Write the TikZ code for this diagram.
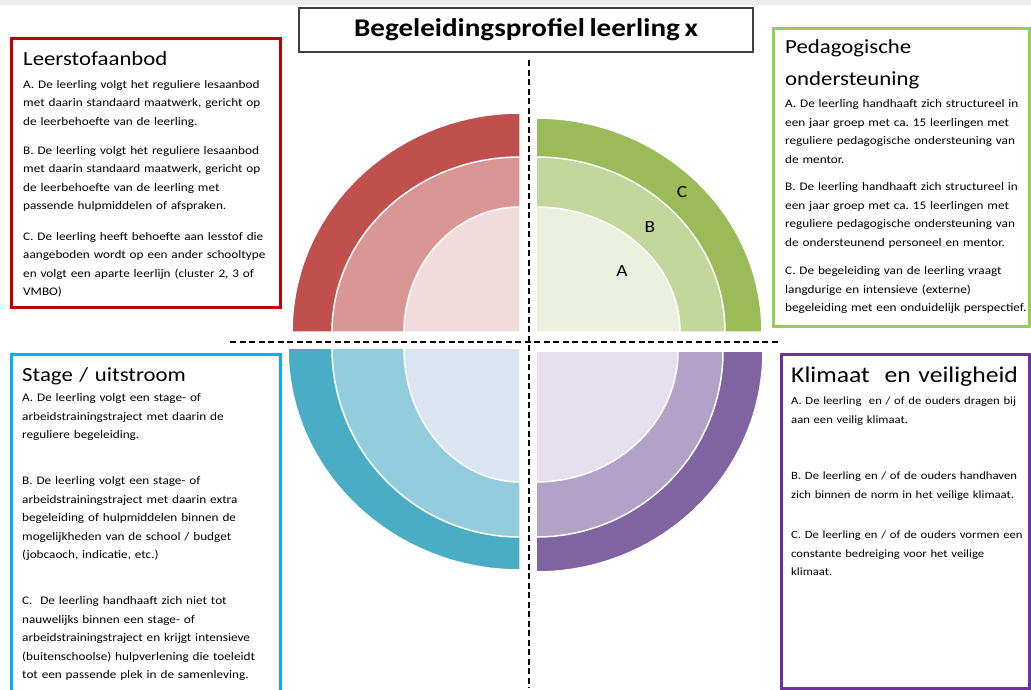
\documentclass[tikz,border=0pt]{standalone}
\usepackage{fontspec}
\setmainfont{Carlito}[FakeStretch=1.14, WordSpace=0.7]
\usepackage{xcolor}

\definecolor{roodlijn}{RGB}{192,0,0}
\definecolor{groenlijn}{RGB}{146,208,80}
\definecolor{blauwlijn}{RGB}{0,176,240}
\definecolor{paarslijn}{RGB}{112,48,160}
\definecolor{roodC}{HTML}{C0504D}
\definecolor{roodB}{HTML}{D99694}
\definecolor{roodA}{HTML}{F2DCDB}
\definecolor{groenC}{HTML}{9BBB59}
\definecolor{groenB}{HTML}{C3D69B}
\definecolor{groenA}{HTML}{EBF1DE}
\definecolor{blauwC}{HTML}{4BACC6}
\definecolor{blauwB}{HTML}{93CDDD}
\definecolor{blauwA}{HTML}{DBE5F1}
\definecolor{paarsC}{HTML}{8064A2}
\definecolor{paarsB}{HTML}{B3A2C7}
\definecolor{paarsA}{HTML}{E6E0EC}

\newcommand{\bodytekst}{\fontsize{11.6}{18.6}\selectfont}
\newcommand{\koptekst}{\fontsize{20}{32}\selectfont}
\frenchspacing

\begin{document}
\begin{tikzpicture}[x=1pt, y=-1pt,
    kader/.style={draw=#1, line width=3pt, inner sep=0pt, anchor=north west},
    tekst/.style={anchor=base west, inner sep=0pt, text width=300pt, align=left, font=\bodytekst},
    kop/.style={anchor=base west, inner sep=0pt, text width=250pt, align=left, font=\koptekst},
    ring/.style={fill=#1, draw=white, line width=1.5pt},
    stippel/.style={black, line width=2.2pt, dash pattern=on 6pt off 3.5pt},
    niveau/.style={inner sep=0pt, font=\fontsize{17}{17}\selectfont}]
  \useasboundingbox (0,0) rectangle (1031,689);
  \fill[black!7] (0,0) rectangle (1031,5);

  \node[draw=black!75, line width=1.2pt, minimum width=454pt, minimum height=44pt, inner sep=0pt,
    font=\bfseries\fontsize{25.5}{25.5}\selectfont] (titel) at (526,30) {Begeleidingsprofiel leerling x};

  \coordinate (rood) at (520,332);
  \coordinate (groen) at (536,332);
  \coordinate (blauw) at (520,348);
  \coordinate (paars) at (536,351);

  \filldraw[ring=roodC] (rood) -- ++(180:228 and 219) arc[start angle=180, end angle=270, x radius=228, y radius=219] -- cycle;
  \filldraw[ring=roodB] (rood) -- ++(180:188 and 175) arc[start angle=180, end angle=270, x radius=188, y radius=175] -- cycle;
  \filldraw[ring=roodA] (rood) -- ++(180:116 and 125) arc[start angle=180, end angle=270, x radius=116, y radius=125] -- cycle;

  \filldraw[ring=groenC] (groen) -- ++(270:226 and 214) arc[start angle=270, end angle=360, x radius=226, y radius=214] -- cycle;
  \filldraw[ring=groenB] (groen) -- ++(270:189 and 175) arc[start angle=270, end angle=360, x radius=189, y radius=175] -- cycle;
  \filldraw[ring=groenA] (groen) -- ++(270:144 and 125) arc[start angle=270, end angle=360, x radius=144, y radius=125] -- cycle;

  \filldraw[ring=blauwC] (blauw) -- ++(90:232 and 222) arc[start angle=90, end angle=180, x radius=232, y radius=222] -- cycle;
  \filldraw[ring=blauwB] (blauw) -- ++(90:188 and 189) arc[start angle=90, end angle=180, x radius=188, y radius=189] -- cycle;
  \filldraw[ring=blauwA] (blauw) -- ++(90:116 and 134) arc[start angle=90, end angle=180, x radius=116, y radius=134] -- cycle;

  \filldraw[ring=paarsC] (paars) -- ++(0:227 and 221) arc[start angle=0, end angle=90, x radius=227, y radius=221] -- cycle;
  \filldraw[ring=paarsB] (paars) -- ++(0:187 and 186) arc[start angle=0, end angle=90, x radius=187, y radius=186] -- cycle;
  \filldraw[ring=paarsA] (paars) -- ++(0:142 and 131) arc[start angle=0, end angle=90, x radius=142, y radius=131] -- cycle;

  \node[niveau] (niveauC) at (682,192) {C};
  \node[niveau] (niveauB) at (650,227) {B};
  \node[niveau] (niveauA) at (622,271) {A};

  \coordinate (hlinks) at (230,342);
  \coordinate (hrechts) at (778,342);
  \coordinate (vboven) at (529,60);
  \coordinate (vonder) at (529,688);
  \draw[stippel] (hlinks) -- (hrechts);
  \draw[stippel] (vboven) -- (vonder);

  \node[kader=roodlijn, minimum width=269pt, minimum height=269pt] (leerstof) at (10,37) {};
  \node[kop] (leerstof-kop) at (23,65) {Leerstofaanbod};
  \node[tekst] (leerstof-a) at (23,88) {A. De leerling volgt het reguliere lesaanbod\\ met daarin standaard maatwerk, gericht op\\ de leerbehoefte van de leerling.};
  \node[tekst] (leerstof-b) at (23,154) {B. De leerling volgt het reguliere lesaanbod\\ met daarin standaard maatwerk, gericht op\\ de leerbehoefte van de leerling met\\ passende hulpmiddelen of afspraken.};
  \node[tekst] (leerstof-c) at (23,240) {C. De leerling heeft behoefte aan lesstof die\\ aangeboden wordt op een ander schooltype\\ en volgt een aparte leerlijn (cluster 2, 3 of\\ VMBO)};

  \node[kader=groenlijn, minimum width=256pt, minimum height=298pt] (pedagogisch) at (772,27) {};
  \node[kop] (pedagogisch-kop) at (785,53) {Pedagogische\\ ondersteuning};
  \node[tekst] (pedagogisch-a) at (785,107.5) {A. De leerling handhaaft zich structureel in\\ een jaar groep met ca. 15 leerlingen met\\ reguliere pedagogische ondersteuning van\\ de mentor.};
  \node[tekst] (pedagogisch-b) at (785,190.5) {B. De leerling handhaaft zich structureel in\\ een jaar groep met ca. 15 leerlingen met\\ reguliere pedagogische ondersteuning van\\ de ondersteunend personeel en mentor.};
  \node[tekst] (pedagogisch-c) at (785,274.5) {C. De begeleiding van de leerling vraagt\\ langdurige en intensieve (externe)\\ begeleiding met een onduidelijk perspectief.};

  \node[kader=blauwlijn, minimum width=269pt, minimum height=340pt] (stage) at (10,353) {};
  \node[kop] (stage-kop) at (22,381) {Stage / uitstroom};
  \node[tekst] (stage-a) at (22,401.5) {A. De leerling volgt een stage- of\\ arbeidstrainingstraject met daarin de\\ reguliere begeleiding.};
  \node[tekst] (stage-b) at (22,484.5) {B. De leerling volgt een stage- of\\ arbeidstrainingstraject met daarin extra\\ begeleiding of hulpmiddelen binnen de\\ mogelijkheden van de school / budget\\ (jobcaoch, indicatie, etc.)};
  \node[tekst] (stage-c) at (22,604.5) {C.\ \ De leerling handhaaft zich niet tot\\ nauwelijks binnen een stage- of\\ arbeidstrainingstraject en krijgt intensieve\\ (buitenschoolse) hulpverlening die toeleidt\\ tot een passende plek in de samenleving.};

  \node[kader=paarslijn, minimum width=248pt, minimum height=334pt] (klimaat) at (780,353) {};
  \node[kop, font=\fontsize{22.5}{30}\selectfont] (klimaat-kop) at (791,382) {Klimaat\ \ en veiligheid};
  \node[tekst, font=\fontsize{11.1}{18.6}\selectfont] (klimaat-a) at (791,404.5) {A. De leerling\ \ en / of de ouders dragen bij\\ aan een veilig klimaat.};
  \node[tekst, font=\fontsize{11.1}{18.6}\selectfont] (klimaat-b) at (791,479.5) {B. De leerling en / of de ouders handhaven\\ zich binnen de norm in het veilige klimaat.};
  \node[tekst, font=\fontsize{11.1}{18.6}\selectfont] (klimaat-c) at (791,538.5) {C. De leerling en / of de ouders vormen een\\ constante bedreiging voor het veilige\\ klimaat.};
\end{tikzpicture}
\end{document}
